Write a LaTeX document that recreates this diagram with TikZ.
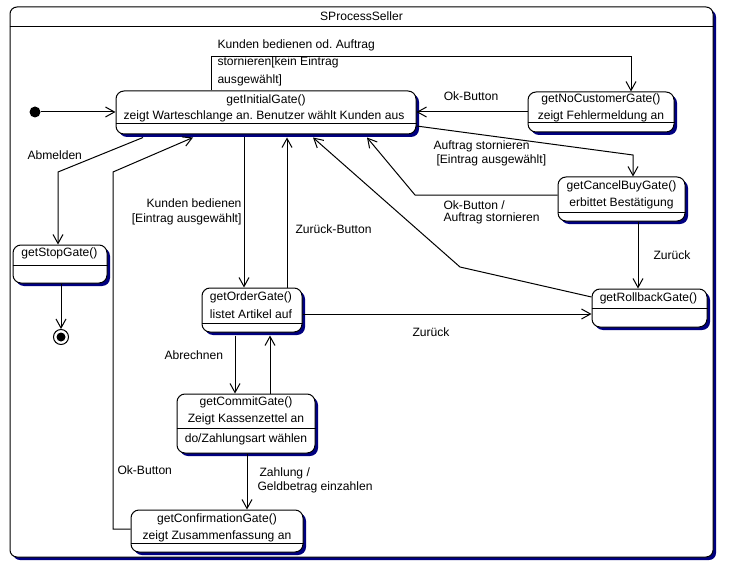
\documentclass[tikz,border=0pt]{standalone}
\usepackage{fontspec}
\setmainfont{Liberation Sans}
\usetikzlibrary{arrows.meta,shadows}
\definecolor{shadownavy}{RGB}{0,0,128}
\frenchspacing
\begin{document}
\begin{tikzpicture}[x=1pt,y=-1pt,line width=1pt,
  every node/.style={font=\fontsize{12.1}{15}\selectfont,inner sep=0pt},
  nshadow/.style={drop shadow={shadow xshift=3pt,shadow yshift=-3pt,fill=shadownavy,opacity=1}},
  statebox/.style={draw,rounded corners=8pt,fill=white,nshadow},
  arr/.style={-{Straight Barb[length=9pt,width=10pt]}},
  lbl/.style={align=left},
]
\useasboundingbox (0,0) rectangle (730,572);
% outer frame
\node[draw,rounded corners=7pt,fill=white,nshadow,minimum width=703pt,minimum height=550pt] (frame) at (361.5,282) {};
\draw (frame.west |- 0,27) -- (frame.east |- 0,27);
\node (ftitle) at (361.5,16) {SProcessSeller};

% states
\node[statebox,minimum width=300pt,minimum height=43pt] (init) at (266,112.5) {};
\draw (init.west |- 0,124) -- (init.east |- 0,124);
\node (t1) at (266,100) {getInitialGate()};
\node (t2) at (264,116) {zeigt Warteschlange an. Benutzer wählt Kunden aus};

\node[statebox,minimum width=146pt,minimum height=40pt] (nocust) at (601,112) {};
\draw (nocust.west |- 0,123) -- (nocust.east |- 0,123);
\node (t3) at (601,99) {getNoCustomerGate()};
\node (t4) at (601,116) {zeigt Fehlermeldung an};

\node[statebox,minimum width=127pt,minimum height=44pt] (cancel) at (621.5,199) {};
\draw (cancel.west |- 0,212) -- (cancel.east |- 0,212);
\node (t5) at (621.5,186) {getCancelBuyGate()};
\node (t6) at (621.5,203) {erbittet Bestätigung};

\node[statebox,minimum width=115pt,minimum height=38pt] (rollback) at (649.5,308) {};
\draw (rollback.west |- 0,308) -- (rollback.east |- 0,308);
\node (t7) at (648.5,298) {getRollbackGate()};

\node[statebox,minimum width=94pt,minimum height=38pt] (stop) at (60,264) {};
\draw (stop.west |- 0,265) -- (stop.east |- 0,265);
\node (t8) at (59.5,253) {getStopGate()};

\node[statebox,minimum width=100pt,minimum height=44pt] (order) at (252,310) {};
\draw (order.west |- 0,323) -- (order.east |- 0,323);
\node (t9) at (251,297) {getOrderGate()};
\node (t10) at (251,314) {listet Artikel auf};

\node[statebox,minimum width=138pt,minimum height=59pt] (commit) at (246,423.5) {};
\draw (commit.west |- 0,428) -- (commit.east |- 0,428);
\node (t11) at (246,402) {getCommitGate()};
\node (t12) at (246,419) {Zeigt Kassenzettel an};
\node (t13) at (246,439) {do/Zahlungsart wählen};

\node[statebox,minimum width=172pt,minimum height=42pt] (confirm) at (217,531) {};
\draw (confirm.west |- 0,543) -- (confirm.east |- 0,543);
\node (t14) at (217,519) {getConfirmationGate()};
\node (t15) at (217,536) {zeigt Zusammenfassung an};

% pseudo states
\node[circle,fill,minimum size=11pt] (start) at (35,112) {};
\node[circle,draw,minimum size=15pt] (final) at (61,337) {};
\fill (final.center) circle (4.5pt);

% helper coordinates below shadows
\coordinate (ib) at ([yshift=-3pt]init.south);
\coordinate (ob) at ([yshift=-3pt]order.south);

% transitions
\draw[arr] (start.east) -- (init.west |- start);
\draw[arr] (init.north -| 211,0) -- (211,57) -- (631,57) -- (nocust.north -| 631,0);
\draw[arr] (nocust.west) -- (init.east |- nocust.west);
\draw[arr] (init.east |- 0,126) -- (633,155) -- (cancel.north -| 633,0);
\draw[arr] (cancel.west |- 0,195) -- (415,195) -- (ib -| 367,0);
\draw[arr] (rollback.west |- 0,297) -- (460,267) -- (ib -| 313,0);
\draw[arr] (cancel.south -| 638,0) -- (rollback.north -| 638,0);
\draw[arr] (order.east |- 0,314) -- (rollback.west |- 0,314);
\draw[arr] (ib -| 244,0) -- (order.north -| 244,0);
\draw[arr] (order.north -| 287,0) -- (ib -| 287,0);
\draw[arr] (ib -| 143,0) -- (58,172) -- (stop.north -| 58,0);
\draw[arr] (stop.south -| 61,0) -- (final.north);
\draw[arr] (confirm.west |- 0,529) -- (113,529) -- (113,172) -- (ib -| 193,0);
\draw[arr] (ob -| 235,0) -- (commit.north -| 235,0);
\draw[arr] (commit.north -| 270,0) -- (ob -| 270,0);
\draw[arr] (commit.south -| 247,0) -- (confirm.north -| 247,0);

% labels
\node[lbl,anchor=west,font=\fontsize{12.1}{17.5}\selectfont] (l1) at (217,62.5) {Kunden bedienen od. Auftrag\\stornieren[kein Eintrag\\ausgewählt]};
\node (l2) at (471,96) {Ok-Button};
\node[lbl,anchor=west,font=\fontsize{12.1}{14}\selectfont] (l3) at (433,153) {Auftrag stornieren\\\hspace*{3pt}[Eintrag ausgewählt]};
\node[lbl,anchor=west,font=\fontsize{12.1}{12}\selectfont] (l4) at (443,212.5) {Ok-Button /\\Auftrag stornieren};
\node (l5) at (672,255) {Zurück};
\node (l6) at (431,332) {Zurück};
\node[align=right,anchor=east] (l7) at (242,211.5) {Kunden bedienen\\{}[Eintrag ausgewählt]};
\node[anchor=west] (l8) at (295,229) {Zurück-Button};
\node[anchor=west] (l9) at (27,155) {Abmelden};
\node[anchor=west] (l10) at (164,355) {Abrechnen};
\node[anchor=west] (l11) at (117,470) {Ok-Button};
\node[lbl,anchor=west,font=\fontsize{12.1}{14}\selectfont] (l12) at (257,480.5) {\hspace*{2pt}Zahlung /\\Geldbetrag einzahlen};
\end{tikzpicture}
\end{document}
